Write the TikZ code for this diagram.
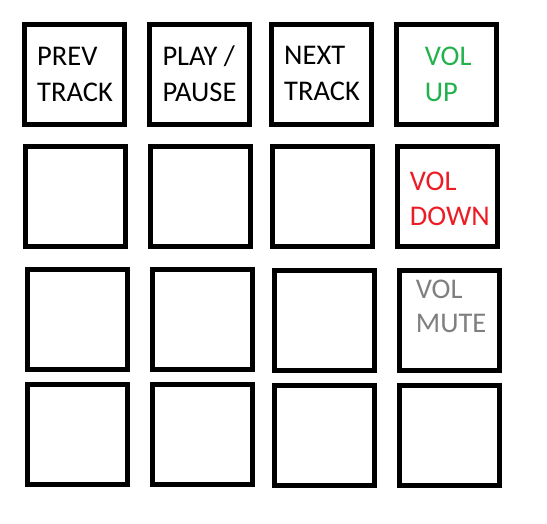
\documentclass[tikz,border=0pt]{standalone}
\usepackage{fontspec}
\setmainfont{Carlito}
\usepackage{xcolor}
\definecolor{volgreen}{HTML}{22B14C}
\definecolor{volred}{HTML}{ED1C24}
\definecolor{volgray}{HTML}{7F7F7F}

\begin{document}
\begin{tikzpicture}[x=1pt, y=-1pt,
  keybox/.style={draw, line width=5pt, minimum size=100pt, inner sep=0pt},
  keytext/.style={anchor=base west, inner sep=0pt, align=left, font=\fontsize{28.5}{36.5}\selectfont}]
  \useasboundingbox (0,0) rectangle (547,524);
  \node[keybox] (k11) at (74.3,74.5) {};
  \node[keybox] (k12) at (199.3,74.5) {};
  \node[keybox] (k13) at (321.4,75) {};
  \node[keybox] (k14) at (446.5,75) {};
  \node[keybox] (k21) at (75.2,196.5) {};
  \node[keybox] (k22) at (200,196.5) {};
  \node[keybox] (k23) at (322.3,197) {};
  \node[keybox] (k24) at (447.7,197) {};
  \node[keybox] (k31) at (77.5,319.4) {};
  \node[keybox] (k32) at (202.5,319.4) {};
  \node[keybox] (k33) at (324.3,320.2) {};
  \node[keybox] (k34) at (449.5,320.2) {};
  \node[keybox] (k41) at (77.5,434.5) {};
  \node[keybox] (k42) at (202.5,434.5) {};
  \node[keybox] (k43) at (324.3,435.3) {};
  \node[keybox] (k44) at (449.5,435.3) {};
  \node[keytext] (prev) at (37,101.7) {PREV\\TRACK};
  \node[keytext] (play) at (162.3,101.7) {PLAY /\\PAUSE};
  \node[keytext] (next) at (284,100.7) {NEXT\\TRACK};
  \node[keytext, volgreen] (volup) at (424.7,101.7) {VOL\\UP};
  \node[keytext, volred, font=\fontsize{28.5}{35.7}\selectfont] (voldown) at (409.7,226) {VOL\\DOWN};
  \node[keytext, volgray, font=\fontsize{28.5}{33.3}\selectfont] (volmute) at (415.7,332) {VOL\\MUTE};
\end{tikzpicture}
\end{document}
